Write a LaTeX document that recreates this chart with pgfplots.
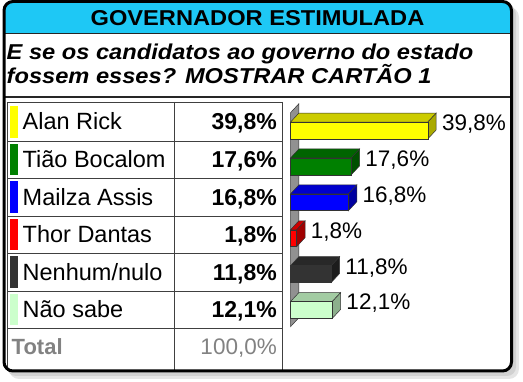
\documentclass[border=0pt]{standalone}
\usepackage{pgfplots}
\pgfplotsset{compat=1.18}
\usepackage{fontspec}
\setmainfont{Liberation Sans}
\newfontfamily\wide[FakeStretch=1.1]{Liberation Sans}
\definecolor{hdr}{RGB}{30,200,245}
\definecolor{cY}{RGB}{255,255,0}\definecolor{cYt}{RGB}{204,204,0}\definecolor{cYs}{RGB}{170,170,0}
\definecolor{cG}{RGB}{0,128,0}\definecolor{cGt}{RGB}{0,100,0}\definecolor{cGs}{RGB}{0,80,0}
\definecolor{cB}{RGB}{0,0,255}\definecolor{cBt}{RGB}{0,0,204}\definecolor{cBs}{RGB}{0,0,160}
\definecolor{cR}{RGB}{255,0,0}\definecolor{cRt}{RGB}{204,0,0}\definecolor{cRs}{RGB}{160,0,0}
\definecolor{cK}{RGB}{51,51,51}\definecolor{cKt}{RGB}{40,40,40}\definecolor{cKs}{RGB}{28,28,28}
\definecolor{cL}{RGB}{204,255,204}\definecolor{cLt}{RGB}{163,204,163}\definecolor{cLs}{RGB}{140,175,140}
\definecolor{wall}{RGB}{145,145,145}
\definecolor{gtxt}{RGB}{130,130,130}
\pgfplotsset{
  front/.style={xbar, fill=#1, draw=black!80, line width=0.5pt,
    point meta=explicit symbolic, nodes near coords},
  face/.style={fill=#1, draw=black!80, line width=0.5pt},
}
\newcommand{\lab}{\fontsize{23.5}{28}\selectfont}
\newcommand{\val}{\bfseries\fontsize{23}{28}\selectfont}
\begin{document}
\begin{tikzpicture}
\useasboundingbox (0,0) rectangle (523pt,382pt);
\begin{scope}[x=1pt,y=-1pt,yshift=382pt]
  % shadow
  \fill[black!10, rounded corners=10pt] (9,7) rectangle (519,379);
  \fill[black!18, rounded corners=9pt] (7,5) rectangle (516,376);
  % box
  \fill[white, rounded corners=9pt] (4,1.5) rectangle (511.5,371);
  \begin{scope}
    \clip[rounded corners=9pt] (4,1.5) rectangle (511.5,371);
    \fill[hdr] (0,0) rectangle (520,34);
  \end{scope}
  \draw[line width=1pt, black!85] (4,34) -- (511.5,34);
  \draw[line width=1.3pt, black!85] (4,97) -- (511.5,97);
  % header and question
  \node[anchor=base, inner sep=0pt] at (257.5,25.7) {\wide\bfseries\fontsize{21.5}{26}\selectfont GOVERNADOR ESTIMULADA};
  \node[anchor=base west, inner sep=0pt] at (6.5,59.3) {\wide\bfseries\itshape\fontsize{21.5}{26}\selectfont E se os candidatos ao governo do estado};
  \node[anchor=base west, inner sep=0pt] at (6.5,83.3) {\wide\bfseries\itshape\fontsize{21.5}{26}\selectfont fossem esses? MOSTRAR CARTÃO 1};
  % table grid
  \begin{scope}[line width=0.9pt, black!75]
    \foreach \yy in {102,141,178,216,253,291,328} {\draw (7,\yy) -- (282,\yy);}
    \draw (7,102) -- (7,371);
    \draw (174,102) -- (174,371);
    \draw (282,102) -- (282,371);
  \end{scope}
  % colour markers
  \fill[cY] (9.5,106) rectangle (17.5,138);
  \fill[cG] (9.5,144) rectangle (17.5,175);
  \fill[cB] (9.5,181.5) rectangle (17.5,213);
  \fill[cR] (9.5,219) rectangle (17.5,250);
  \fill[cK] (9.5,256.5) rectangle (17.5,288);
  \fill[cL] (9.5,294) rectangle (17.5,325);
  % labels
  \node[anchor=base west, inner sep=0pt] at (22.5,130) {\lab Alan Rick};
  \node[anchor=base west, inner sep=0pt] at (22.5,168) {\lab Tião Bocalom};
  \node[anchor=base west, inner sep=0pt] at (22.5,205.5) {\lab Mailza Assis};
  \node[anchor=base west, inner sep=0pt] at (22.5,243) {\lab Thor Dantas};
  \node[anchor=base west, inner sep=0pt] at (22.5,280.5) {\lab Nenhum/nulo};
  \node[anchor=base west, inner sep=0pt] at (22.5,318) {\lab Não sabe};
  \node[anchor=base east, inner sep=0pt] at (277,130) {\val 39,8\%};
  \node[anchor=base east, inner sep=0pt] at (277,168) {\val 17,6\%};
  \node[anchor=base east, inner sep=0pt] at (277,205.5) {\val 16,8\%};
  \node[anchor=base east, inner sep=0pt] at (277,243) {\val 1,8\%};
  \node[anchor=base east, inner sep=0pt] at (277,280.5) {\val 11,8\%};
  \node[anchor=base east, inner sep=0pt] at (277,318) {\val 12,1\%};
  \node[anchor=base west, inner sep=0pt, text=gtxt] at (11.5,355) {\bfseries\fontsize{22}{26}\selectfont Total};
  \node[anchor=base east, inner sep=0pt, text=gtxt] at (277,355) {\fontsize{22.5}{26}\selectfont 100,0\%};
  % frame
  \draw[line width=3pt, black, rounded corners=9pt] (4,1.5) rectangle (511.5,371);
\end{scope}
\begin{axis}[
  at={(290.5pt,50.46pt)}, anchor=south west,
  x=3.45pt, y=35.9pt, y dir=reverse,
  xmin=0, xmax=62, ymin=-1, ymax=5.6,
  hide axis, clip=false,
  bar width=16.8pt, bar shift=0pt,
  every node near coord/.append style={anchor=base west, inner sep=0pt, xshift=14pt,
    font=\fontsize{22.5}{26}\selectfont, text=black},
]
% wall
\addplot[face=wall] coordinates {(0,5.465) (0,-0.496) (2.435,-0.747) (2.435,5.214)} -- cycle;
% Alan Rick
\addplot[face=cYt] coordinates {(0,-0.234) (39.8,-0.234) (42.235,-0.485) (2.435,-0.485)} -- cycle;
\addplot[face=cYs] coordinates {(39.8,-0.234) (39.8,0.234) (42.235,-0.017) (42.235,-0.485)} -- cycle;
\addplot[front=cY] coordinates {(39.8,0) [39,8\%]};
% Tiao Bocalom
\addplot[face=cGt] coordinates {(0,0.766) (17.6,0.766) (20.035,0.515) (2.435,0.515)} -- cycle;
\addplot[face=cGs] coordinates {(17.6,0.766) (17.6,1.234) (20.035,0.983) (20.035,0.515)} -- cycle;
\addplot[front=cG] coordinates {(17.6,1) [17,6\%]};
% Mailza Assis
\addplot[face=cBt] coordinates {(0,1.766) (16.8,1.766) (19.235,1.515) (2.435,1.515)} -- cycle;
\addplot[face=cBs] coordinates {(16.8,1.766) (16.8,2.234) (19.235,1.983) (19.235,1.515)} -- cycle;
\addplot[front=cB] coordinates {(16.8,2) [16,8\%]};
% Thor Dantas
\addplot[face=cRt] coordinates {(0,2.766) (1.8,2.766) (4.235,2.515) (2.435,2.515)} -- cycle;
\addplot[face=cRs] coordinates {(1.8,2.766) (1.8,3.234) (4.235,2.983) (4.235,2.515)} -- cycle;
\addplot[front=cR] coordinates {(1.8,3) [1,8\%]};
% Nenhum/nulo
\addplot[face=cKt] coordinates {(0,3.766) (11.8,3.766) (14.235,3.515) (2.435,3.515)} -- cycle;
\addplot[face=cKs] coordinates {(11.8,3.766) (11.8,4.234) (14.235,3.983) (14.235,3.515)} -- cycle;
\addplot[front=cK] coordinates {(11.8,4) [11,8\%]};
% Nao sabe
\addplot[face=cLt] coordinates {(0,4.766) (12.1,4.766) (14.535,4.515) (2.435,4.515)} -- cycle;
\addplot[face=cLs] coordinates {(12.1,4.766) (12.1,5.234) (14.535,4.983) (14.535,4.515)} -- cycle;
\addplot[front=cL] coordinates {(12.1,5) [12,1\%]};
\end{axis}
\end{tikzpicture}
\end{document}
